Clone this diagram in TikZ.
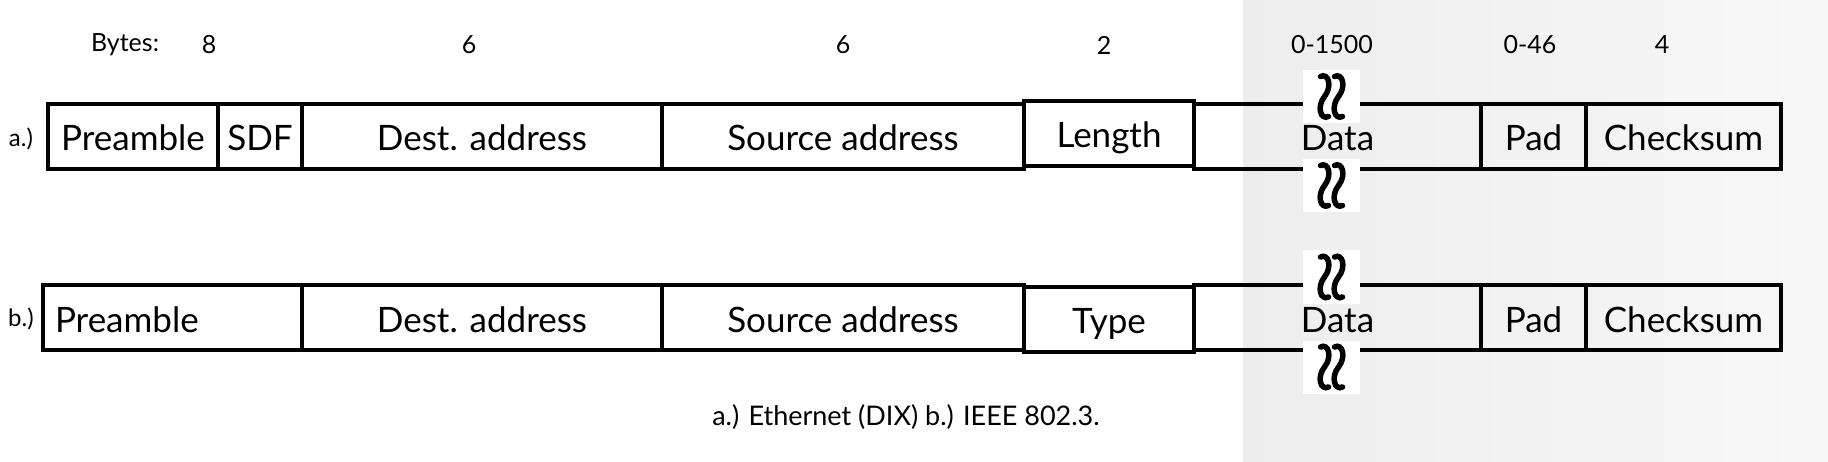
\documentclass[tikz,border=0pt]{standalone}
\usepackage{fontspec}
\setmainfont{Lato}
\tikzset{
  field/.style={draw, line width=3.5pt, outer sep=0pt, inner sep=0pt,
    anchor=north west, minimum height=65pt, text height=29pt, text depth=0pt,
    font=\fontsize{35}{42}\selectfont},
  bytes/.style={font=\fontsize{25}{30}\selectfont},
  rowlabel/.style={font=\fontsize{24}{29}\selectfont},
  squiggle/.style={line width=5.5pt, line cap=round},
  breakmark/.pic={
    \fill[white] (-28.5,-26.5) rectangle (28.5,26.5);
    \foreach \dx in {-7,7}
      \draw[squiggle] (\dx-4,-20) .. controls (\dx+4,-24) and (\dx+8,-10) .. (\dx,0)
        .. controls (\dx-8,10) and (\dx-4,24) .. (\dx+4,20);
  }
}
\begin{document}
\begin{tikzpicture}[x=1pt,y=-1pt]
    \useasboundingbox (0,0) rectangle (1828,462);
    % shaded part behind the variable fields
    \fill[left color=black!7, right color=black!3] (1243,0) rectangle (1828,462);

    % byte counts
    \node [bytes] (byt_lbl) at (125,45) {Bytes:};
    \node [bytes] (byt_pre) at (209,45) {8};
    \node [bytes] (byt_dst) at (469,45) {6};
    \node [bytes] (byt_src) at (843,45) {6};
    \node [bytes] (byt_len) at (1104,45) {2};
    \node [bytes] (byt_data) at (1332,45) {0-1500};
    \node [bytes] (byt_pad) at (1530,45) {0-46};
    \node [bytes] (byt_sum) at (1662,45) {4};

    % a.) Ethernet (DIX)
    \node [rowlabel] (lab_a) at (21,139) {a.)};
    \node [field, minimum width=170pt] (pre_a) at (48,104) {Preamble};
    \node [field, minimum width=84pt] (sdf_a) at (pre_a.north east) {SDF};
    \node [field, minimum width=360pt] (dst_a) at (sdf_a.north east) {Dest. address};
    \node [field, minimum width=362pt] (src_a) at (dst_a.north east) {Source address};
    \node [field, minimum width=170pt] (len_a) at ([yshift=3pt]src_a.north east) {Length};
    \node [field, minimum width=287pt] (data_a) at ([yshift=-3pt]len_a.north east) {Data};
    \node [field, minimum width=105pt] (pad_a) at (data_a.north east) {Pad};
    \node [field, minimum width=195pt] (sum_a) at (pad_a.north east) {Checksum};
    \pic at ([xshift=-6pt,yshift=7.5pt]data_a.north) {breakmark};
    \pic at ([xshift=-6pt,yshift=-16.5pt]data_a.south) {breakmark};

    % b.) IEEE 802.3
    \node [rowlabel] (lab_b) at (21,319) {b.)};
    \node [field, minimum width=259pt, text width=235pt, align=left] (pre_b) at (43,285) {Preamble};
    \node [field, minimum width=360pt] (dst_b) at (pre_b.north east) {Dest. address};
    \node [field, minimum width=362pt] (src_b) at (dst_b.north east) {Source address};
    \node [field, minimum width=170pt] (type_b) at ([yshift=-2pt]src_b.north east) {Type};
    \node [field, minimum width=287pt] (data_b) at ([yshift=2pt]type_b.north east) {Data};
    \node [field, minimum width=105pt] (pad_b) at (data_b.north east) {Pad};
    \node [field, minimum width=195pt] (sum_b) at (pad_b.north east) {Checksum};
    \pic at ([xshift=-6pt,yshift=8pt]data_b.north) {breakmark};
    \pic at ([xshift=-6pt,yshift=-17pt]data_b.south) {breakmark};

    \node [bytes, font=\fontsize{27}{32}\selectfont] (caption) at (906,417) {a.) Ethernet (DIX) b.) IEEE 802.3.};
\end{tikzpicture}
\end{document}
